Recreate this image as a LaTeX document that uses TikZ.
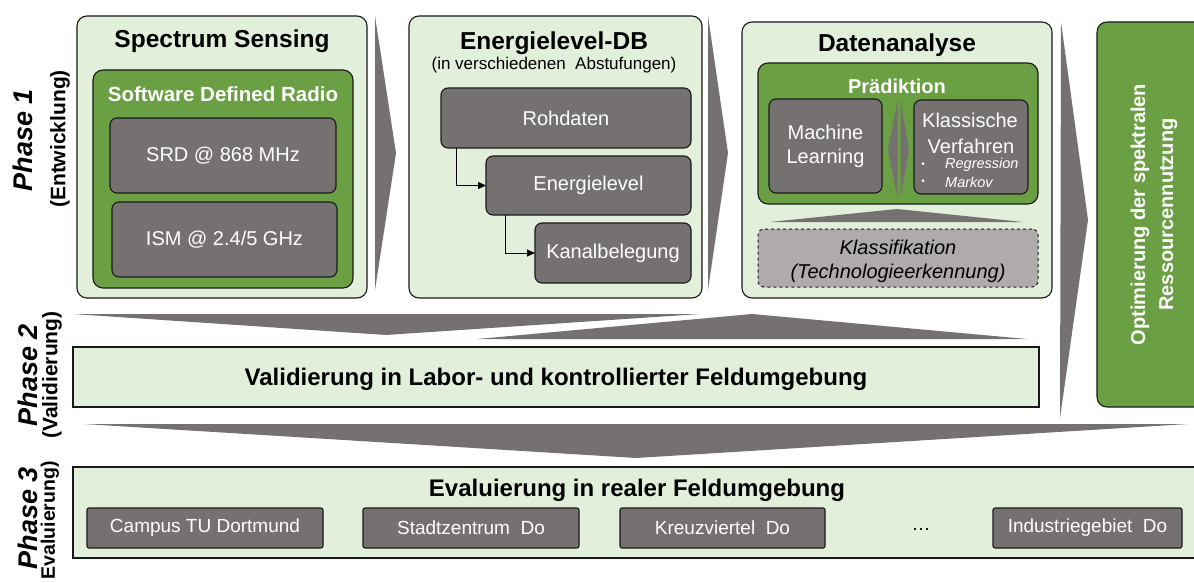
\documentclass[tikz,border=0pt]{standalone}
\usepackage{fontspec}
\setmainfont{Liberation Sans}
\usetikzlibrary{arrows.meta}

\definecolor{panelgreen}{RGB}{226,239,218}
\definecolor{leafgreen}{RGB}{106,160,67}
\definecolor{stone}{RGB}{118,113,113}
\definecolor{pebble}{RGB}{175,171,171}
\definecolor{ink}{RGB}{25,25,25}

\tikzset{
  basebox/.style={line width=1.1pt, inner sep=0pt, outer sep=0pt},
  panel/.style={basebox, draw=ink, fill=panelgreen, rounded corners=10pt},
  leaf/.style={basebox, draw=ink, fill=leafgreen, rounded corners=10pt},
  flatpanel/.style={basebox, draw=ink, fill=panelgreen},
  tile/.style={basebox, draw=ink, fill=stone, rounded corners=7pt, text=white,
    align=center, font=\fontsize{20}{24}\selectfont},
  site/.style={basebox, draw=ink, fill=stone, rounded corners=2pt, text=white,
    minimum height=40pt, font=\fontsize{19}{22}\selectfont},
  heading/.style={inner sep=0pt, font=\fontsize{24.5}{28}\selectfont\bfseries},
  leafheading/.style={inner sep=0pt, text=white, font=\fontsize{20}{24}\selectfont\bfseries},
  plain/.style={inner sep=0pt, font=\fontsize{20}{24}\selectfont},
  block/.style={fill=stone},
  flowarrow/.style={-{Triangle[length=8pt,width=7pt]}, line width=1pt, draw=black},
  phaselabel/.style={rotate=90, inner sep=0pt, font=\fontsize{27}{30}\selectfont\bfseries\itshape},
  phasesub/.style={rotate=90, inner sep=0pt, font=\fontsize{21}{24}\selectfont\bfseries},
}

\begin{document}
\begin{tikzpicture}[x=1pt, y=-1pt]
\useasboundingbox (0,0) rectangle (1194,583);
\begin{scope}
\clip (0,0) rectangle (1194,583);

% ---------- phase labels ----------
\node[phaselabel] (p1) at (23,140) {Phase 1};
\node[phasesub]   (p1s) at (60,139) {(Entwicklung)};
\node[phaselabel] (p2) at (28,375) {Phase 2};
\node[phasesub]   (p2s) at (52,375) {(Validierung)};
\node[phaselabel] (p3) at (28,518) {Phase 3};
\node[phasesub, anchor=east, font=\fontsize{19.5}{22}\selectfont\bfseries] (p3s) at (50,461) {Evaluierung)};

% ---------- Spectrum Sensing ----------
\node[panel, minimum width=290pt, minimum height=282pt] (ss) at (222,157) {};
\node[heading] (sst) at (222,41) {Spectrum Sensing};
\node[leaf, minimum width=260pt, minimum height=218pt] (sdr) at (223,179) {};
\node[leafheading, font=\fontsize{20.5}{24}\selectfont\bfseries] (sdrt) at (223,94) {Software Defined Radio};
\node[tile, minimum width=226pt, minimum height=75pt] (srd) at (223,155.5) {SRD @ 868 MHz};
\node[tile, minimum width=225pt, minimum height=75pt] (ism) at (224.5,239.5) {ISM @ 2.4/5 GHz};

% chevron towards the database
\fill[block] (375,16) -- (396,153) -- (375,290) -- cycle;

% ---------- Energielevel-DB ----------
\node[panel, minimum width=293pt, minimum height=282pt] (edb) at (555.5,157) {};
\node[heading] (edbt) at (554,43) {Energielevel-DB};
\node[inner sep=0pt, font=\fontsize{17}{20}\selectfont] (edbs) at (554,65) {(in verschiedenen\ \ Abstufungen)};
\node[tile, minimum width=250pt, minimum height=60pt] (roh) at (566,118) {Rohdaten};
\node[tile, minimum width=205pt, minimum height=59pt] (ene) at (588.5,185.5) {Energielevel};
\node[tile, minimum width=156pt, minimum height=60pt] (kan) at (613,253) {Kanalbelegung};
\draw[flowarrow] ([xshift=15pt]roh.south west) |- (ene.west);
\draw[flowarrow] ([xshift=19pt]ene.south west) |- (kan.west);

% chevron towards the analysis
\fill[block] (708,16) -- (728,153) -- (708,290) -- cycle;

% ---------- Datenanalyse ----------
\node[panel, minimum width=310pt, minimum height=276pt] (da) at (897,160) {};
\node[heading] (dat) at (897,45) {Datenanalyse};
\node[leaf, minimum width=280pt, minimum height=141pt] (pra) at (898,133.5) {};
\node[leafheading] (prat) at (897,86) {Prädiktion};
\node[tile, minimum width=113pt, minimum height=94pt] (ml) at (825.5,146) {Machine\\Learning};
\node[tile, minimum width=114pt, minimum height=94pt] (kv) at (971,147) {};
\node[plain, text=white] (kv1) at (970,120) {Klassische};
\node[plain, text=white] (kv2) at (971,146) {Verfahren};
\node[inner sep=0pt, text=white, font=\fontsize{10}{12}\selectfont] (b1) at (923,165) {•};
\node[inner sep=0pt, text=white, font=\fontsize{10}{12}\selectfont] (b2) at (923,182) {•};
\node[inner sep=0pt, anchor=west, text=white, font=\fontsize{14.5}{17}\selectfont\itshape] (reg) at (945,165) {Regression};
\node[inner sep=0pt, anchor=west, text=white, font=\fontsize{14.5}{17}\selectfont\itshape] (mar) at (945,182) {Markov};
% exchange between both approaches
\fill[block] (897.5,100) -- (888,150) -- (897.5,198) -- cycle;
\fill[block] (900.5,100) -- (909,150) -- (900.5,198) -- cycle;
% classification feeds the prediction
\fill[block] (770,222) -- (897,209) -- (1023,222) -- cycle;
\node[basebox, draw=ink, dashed, line width=1pt, fill=pebble, rounded corners=6pt,
      minimum width=280pt, minimum height=58pt] (kla) at (898,258) {};
\node[plain, align=center, font=\fontsize{20}{24}\selectfont\itshape] (klat) at (898,261)
  {Klassifikation\\(Technologieerkennung)};

% chevron towards the optimisation
\fill[block] (1061,22) -- (1088,220) -- (1060,418) -- cycle;

% ---------- Optimierung ----------
\node[leaf, rotate=90, minimum width=385pt, minimum height=114pt, text=white, align=center,
      font=\fontsize{20}{28}\selectfont\bfseries] (opt) at (1154,214.5)
  {Optimierung der spektralen\\Ressourcennutzung};

% ---------- Phase 2 ----------
\fill[block] (73,314) -- (700,314) -- (386,335) -- cycle;
\fill[block] (477,339) -- (752,314) -- (1027,339) -- cycle;
\node[flatpanel, minimum width=966pt, minimum height=60pt] (val) at (556,377) {};
\node[heading, font=\fontsize{24}{28}\selectfont\bfseries] (valt) at (556,379)
  {Validierung in Labor- und kontrollierter Feldumgebung};

% ---------- Phase 3 ----------
\fill[block] (84,424) -- (1188,424) -- (636,458) -- cycle;
\node[flatpanel, anchor=north west, minimum width=1127pt, minimum height=91pt] (eva) at (73,467) {};
\node[heading, font=\fontsize{24}{28}\selectfont\bfseries] (evat) at (637,490)
  {Evaluierung in realer Feldumgebung};
\node[site, minimum width=236pt] (campus) at (205,528) {Campus TU Dortmund};
\node[site, minimum width=216pt] (stadt) at (471,528) {Stadtzentrum\ \ Do};
\node[site, minimum width=205pt] (kreuz) at (722.5,528) {Kreuzviertel\ \ Do};
\node[inner sep=0pt, font=\fontsize{19}{22}\selectfont] (dots) at (921,529) {…};
\node[site, minimum width=189pt] (indus) at (1087.5,528) {Industriegebiet\ \ Do};

\end{scope}
\end{tikzpicture}
\end{document}
